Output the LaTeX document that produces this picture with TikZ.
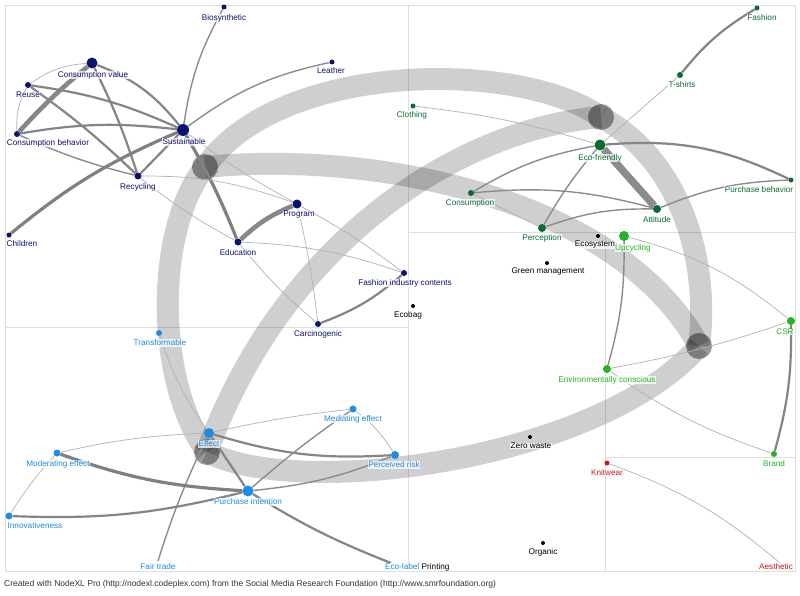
\documentclass[tikz,border=0pt]{standalone}
\usepackage{fontspec}
\setmainfont{Liberation Sans}
\definecolor{cnavy}{HTML}{0B1270}
\definecolor{cdgreen}{HTML}{0A6B32}
\definecolor{clgreen}{HTML}{22B422}
\definecolor{clblue}{HTML}{1E8CE6}
\definecolor{cred}{HTML}{CC1818}
\begin{document}
\begin{tikzpicture}[x=1pt,y=-1pt,
  vtx/.style={circle,inner sep=0pt,minimum size=#1,draw=none},
  lab/.style={font=\fontsize{8.2}{9}\selectfont,inner sep=0.5pt,fill=white,fill opacity=0.75,text opacity=1},
  gridln/.style={draw=black!13,line width=0.8pt},
  band/.style={draw=black,draw opacity=0.19,line width=22pt},
  grp/.style={circle,inner sep=0pt,minimum size=26pt,fill=black!40,draw=none},
  ea/.style={draw=black!30,line width=0.7pt},
  eb/.style={draw=black!45,line width=1.4pt},
  ec/.style={draw=black!48,line width=2.2pt},
  ed/.style={draw=black!50,line width=3.2pt},
  ee/.style={draw=black!47,line width=4.6pt},
  ef/.style={draw=black!45,line width=7.5pt}]
\useasboundingbox[fill=white] (0,0) rectangle (800,596);
% grid
\draw[gridln] (5,5) rectangle (795,571);
\draw[gridln] (408,5) -- (408,571);
\draw[gridln] (5,327) -- (408,327);
\draw[gridln] (408,232) -- (795,232);
\draw[gridln] (605,232) -- (605,571);
\draw[gridln] (605,457) -- (795,457);
% group centroids
\node[grp] (gA) at (205,167) {};
\node[grp] (gB) at (601,117) {};
\node[grp] (gC) at (699,346) {};
\node[grp] (gD) at (207,452) {};
% group bands
\draw[band] (gA.center) .. controls (280,60) and (520,60) .. (gB.center);
\draw[band] (gA.center) .. controls (380,150) and (620,200) .. (gC.center);
\draw[band] (gA.center) .. controls (155,230) and (155,380) .. (gD.center);
\draw[band] (gD.center) .. controls (280,250) and (450,130) .. (gB.center);
\draw[band] (gD.center) .. controls (300,500) and (600,460) .. (gC.center);
\draw[band] (gB.center) .. controls (680,160) and (710,260) .. (gC.center);
% ---------- vertices ----------
% navy
\node[vtx=5pt,fill=cnavy] (bio) at (224,7) {};
\node[vtx=5pt,fill=cnavy] (lea) at (332,62) {};
\node[vtx=11pt,fill=cnavy] (cv) at (92,63) {};
\node[vtx=6pt,fill=cnavy] (reu) at (28,85) {};
\node[vtx=6pt,fill=cnavy] (cb) at (17,134) {};
\node[vtx=12pt,fill=cnavy] (sus) at (183,130) {};
\node[vtx=7pt,fill=cnavy] (rec) at (138,176) {};
\node[vtx=5pt,fill=cnavy] (chi) at (9,235) {};
\node[vtx=7pt,fill=cnavy] (edu) at (238,242) {};
\node[vtx=9pt,fill=cnavy] (pro) at (297,204) {};
\node[vtx=6pt,fill=cnavy] (fic) at (404,273) {};
\node[vtx=6pt,fill=cnavy] (car) at (318,324) {};
% black
\node[vtx=4pt,fill=black] (ecb) at (413,306) {};
\node[vtx=4pt,fill=black] (gmt) at (547,263) {};
\node[vtx=4pt,fill=black] (ecs) at (598,236) {};
\node[vtx=4pt,fill=black] (zer) at (530,437) {};
\node[vtx=4pt,fill=black] (org) at (543,543) {};
% dark green
\node[vtx=5pt,fill=cdgreen] (clo) at (413,106) {};
\node[vtx=5pt,fill=cdgreen] (fas) at (757,8) {};
\node[vtx=6pt,fill=cdgreen] (tsh) at (680,75) {};
\node[vtx=11pt,fill=cdgreen] (eco) at (600,145) {};
\node[vtx=6pt,fill=cdgreen] (con) at (471,193) {};
\node[vtx=8pt,fill=cdgreen] (per) at (542,228) {};
\node[vtx=8pt,fill=cdgreen] (att) at (657,209) {};
\node[vtx=5pt,fill=cdgreen] (pb) at (791,180) {};
% light green
\node[vtx=10pt,fill=clgreen] (upc) at (624,236) {};
\node[vtx=8pt,fill=clgreen] (csr) at (791,321) {};
\node[vtx=8pt,fill=clgreen] (env) at (607,369) {};
\node[vtx=6pt,fill=clgreen] (bra) at (774,454) {};
% red
\node[vtx=5pt,fill=cred] (kni) at (607,463) {};
\coordinate (aes) at (780,563);
% light blue
\node[vtx=6pt,fill=clblue] (tra) at (159,333) {};
\node[vtx=7pt,fill=clblue] (med) at (353,409) {};
\node[vtx=10pt,fill=clblue] (eff) at (209,433) {};
\node[vtx=8pt,fill=clblue] (prc) at (395,455) {};
\node[vtx=11pt,fill=clblue] (pin) at (248,491) {};
\node[vtx=7pt,fill=clblue] (mod) at (57,453) {};
\node[vtx=7pt,fill=clblue] (inn) at (9,516) {};
\coordinate (fair) at (158,561);
\coordinate (ecl) at (391,563);
% ---------- edges ----------
% navy
\draw[eb] (sus) to[bend left=10] (bio);
\draw[eb] (sus) to[bend left=12] (lea);
\draw[ec] (cv) to[bend left=15] (sus);
\draw[ea] (reu) to[bend left=15] (cv);
\draw[ee] (cb) to[bend left=4] (cv);
\draw[ec] (cv) to[bend left=4] (rec);
\draw[ec] (reu) to[bend left=8] (sus);
\draw[ea] (reu) to[bend right=15] (cb);
\draw[ec] (reu) to[bend left=4] (rec);
\draw[ec] (cb) to[bend left=8] (sus);
\draw[eb] (cb) to[bend right=5] (rec);
\draw[ed] (chi) to[bend left=8] (sus);
\draw[ec] (rec) to (sus);
\draw[ed] (sus) to[bend left=4] (edu);
\draw[ee] (edu) to[bend left=10] (pro);
\draw[ea] (rec) to[bend left=10] (pro);
\draw[ea] (rec) to[bend right=5] (edu);
\draw[ea] (sus) to[bend right=4] (pro);
\draw[ea] (pro) to[bend left=4] (fic);
\draw[ea] (edu) to[bend left=8] (fic);
\draw[ea] (edu) to[bend right=5] (car);
\draw[ea] (pro) to[bend left=3] (car);
\draw[ec] (car) to[bend right=10] (fic);
% dark green
\draw[ec] (tsh) to[bend left=10] (fas);
\draw[ea] (tsh) to (eco);
\draw[ea] (clo) to[bend left=5] (eco);
\draw[ec] (eco) to[bend left=15] (pb);
\draw[ef] (eco) to (att);
\draw[eb] (con) to[bend left=10] (eco);
\draw[eb] (eco) to[bend right=5] (per);
\draw[eb] (con) to[bend left=10] (att);
\draw[ea] (con) to (per);
\draw[eb] (per) to[bend left=10] (att);
\draw[eb] (att) to[bend left=10] (pb);
% light green
\draw[eb] (upc) to[bend left=8] (env);
\draw[ea] (upc) to[bend left=12] (csr);
\draw[ea] (env) to[bend right=4] (csr);
\draw[ec] (csr) to[bend left=8] (bra);
\draw[ea] (env) to[bend right=8] (bra);
\draw[ea] (kni) to[bend left=10] (aes);
% light blue
\draw[ea] (tra) to[bend right=8] (eff);
\draw[ea] (eff) to[bend left=3] (med);
\draw[ea] (mod) to[bend left=5] (eff);
\draw[ec] (eff) to[bend right=10] (prc);
\draw[ec] (eff) to (pin);
\draw[eb] (eff) to[bend right=4] (fair);
\draw[ed] (mod) to[bend right=8] (pin);
\draw[ea] (mod) to[bend right=5] (inn);
\draw[ec] (inn) to[bend right=8] (pin);
\draw[eb] (pin) to[bend left=3] (med);
\draw[eb] (pin) to[bend right=8] (prc);
\draw[ea] (med) to[bend left=10] (prc);
\draw[ec] (pin) to[bend right=5] (ecl);
% ---------- labels ----------
\node[lab,text=cnavy] (bioL) at (224,18) {Biosynthetic};
\node[lab,text=cnavy] (leaL) at (331,71) {Leather};
\node[lab,text=cnavy] (cvL) at (93,75) {Consumption value};
\node[lab,text=cnavy] (reuL) at (28,95) {Reuse};
\node[lab,text=cnavy] (cbL) at (48,143) {Consumption behavior};
\node[lab,text=cnavy] (susL) at (184,142) {Sustainable};
\node[lab,text=cnavy] (recL) at (138,187) {Recycling};
\node[lab,text=cnavy] (chiL) at (22,244) {Children};
\node[lab,text=cnavy] (eduL) at (238,253) {Education};
\node[lab,text=cnavy] (proL) at (299,215) {Program};
\node[lab,text=cnavy] (ficL) at (405,283) {Fashion industry contents};
\node[lab,text=cnavy] (carL) at (318,334) {Carcinogenic};
\node[lab,text=black] (ecbL) at (408,315) {Ecobag};
\node[lab,text=black] (gmtL) at (548,271) {Green management};
\node[lab,text=black] (ecsL) at (595,245) {Ecosystem};
\node[lab,text=black] (zerL) at (531,446) {Zero waste};
\node[lab,text=black] (orgL) at (543,552) {Organic};
\node[lab,text=cdgreen] (cloL) at (412,115) {Clothing};
\node[lab,text=cdgreen] (fasL) at (762,18) {Fashion};
\node[lab,text=cdgreen] (tshL) at (682,85) {T-shirts};
\node[lab,text=cdgreen] (ecoL) at (600,158) {Eco-friendly};
\node[lab,text=cdgreen] (conL) at (470,203) {Consumption};
\node[lab,text=cdgreen] (perL) at (542,238) {Perception};
\node[lab,text=cdgreen] (attL) at (657,220) {Attitude};
\node[lab,text=cdgreen] (pbL) at (759,190) {Purchase behavior};
\node[lab,text=clgreen] (upcL) at (633,248) {Upcycling};
\node[lab,text=clgreen] (csrL) at (785,332) {CSR};
\node[lab,text=clgreen] (envL) at (607,380) {Environmentally conscious};
\node[lab,text=clgreen] (braL) at (774,464) {Brand};
\node[lab,text=cred] (kniL) at (607,473) {Knitwear};
\node[lab,text=cred] (aesL) at (776,567) {Aesthetic};
\node[lab,text=clblue] (traL) at (160,343) {Transformable};
\node[lab,text=clblue] (medL) at (353,419) {Mediating effect};
\node[lab,text=clblue] (effL) at (209,444) {Effect};
\node[lab,text=clblue] (prcL) at (394,465) {Perceived risk};
\node[lab,text=clblue] (pinL) at (248,502) {Purchase intention};
\node[lab,text=clblue] (modL) at (58,464) {Moderating effect};
\node[lab,text=clblue] (innL) at (35,526) {Innovativeness};
\node[lab,text=clblue] (fairL) at (158,567) {Fair trade};
\node[lab,text=clblue,anchor=east] (eclL) at (420,567) {Eco-label};
\node[lab,text=black,anchor=west] (priL) at (421,567) {Printing};
\node[anchor=west,inner sep=0pt,font=\fontsize{8.5}{9}\selectfont,text=black!80] (foot) at (4,584) {Created with NodeXL Pro (http://nodexl.codeplex.com) from the Social Media Research Foundation (http://www.smrfoundation.org)};
\end{tikzpicture}
\end{document}
